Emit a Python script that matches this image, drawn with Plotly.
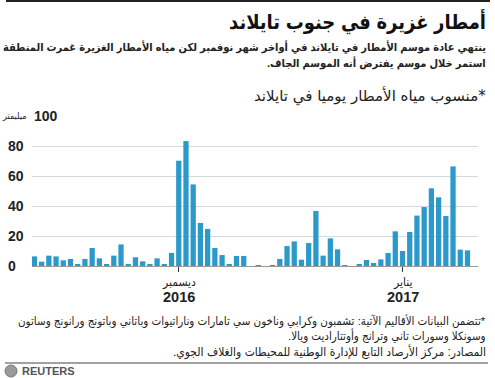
import plotly.graph_objects as go
import pandas as pd

# Daily rainfall (mm), 11 Nov 2016 - 10 Jan 2017
start_date = "2016-11-11"
rain_mm = [
    6.4, 2.9, 6.9, 6.4, 3.8, 4.7, 0.7, 4.7, 12.0, 5.1,
    1.3, 6.9, 14.4, 1.3, 5.8, 3.1, 0.7, 5.1, 1.3, 8.7,
    70.2, 83.3, 54.4, 28.7, 24.7, 12.0, 7.3, 0.7, 6.7, 6.7,
    0.0, 0.5, 0.0, 0.5, 4.7, 13.3, 16.4, 4.2, 15.3, 36.7,
    6.9, 18.4, 11.1, 0.4, 0.0, 1.1, 4.0, 2.0, 4.4, 8.7,
    23.1, 10.0, 22.7, 33.6, 39.3, 51.8, 45.8, 33.3, 66.4, 10.9,
    10.4,
]
dates = pd.date_range(start_date, periods=len(rain_mm), freq="D")

y_ticks = [0, 20, 40, 60, 80, 100]
x_tick_dates = ["2016-12-01", "2017-01-01"]
x_tick_months = ["ديسمبر", "يناير"]
x_tick_years = ["2016", "2017"]

title = "أمطار غزيرة في جنوب تايلاند"
subtitle1 = "ينتهي عادة موسم الأمطار في تايلاند في أواخر شهر نوفمبر لكن مياه الأمطار الغزيرة غمرت المنطقة"
subtitle2 = "استمر خلال موسم يفترض أنه الموسم الجاف."
series_label = "*منسوب مياه الأمطار يوميا في تايلاند"
unit_label = "ميليمتر"
foot1 = "*تتضمن البيانات الأقاليم الآتية: تشمبون وكرابي وناخون سي تامارات وناراتيوات وباتاني وباتونج ورانونج وساتون"
foot2 = "وسونكلا وسورات تاني وترانج وأوتتاراديت ويالا."
source = "المصادر: مركز الأرصاد التابع للإدارة الوطنية للمحيطات والغلاف الجوي."

FONT = "Arial, 'Liberation Sans', 'DejaVu Sans Condensed', 'DejaVu Sans', sans-serif"
FONT_AR = "'DejaVu Sans', sans-serif"
BAR = "#2b9acb"
RLM = "\u200f"

W, H = 495, 378
L, R, T, B = 32, 17, 116, 112
PW, PH = W - L - R, H - T - B


def px(xp):
    return (xp - L) / PW


def py(yp):
    return (H - B - yp) / PH


fig = go.Figure()
fig.add_trace(go.Bar(x=dates, y=rain_mm, marker_color=BAR, marker_line_width=0))

fig.update_layout(
    width=W, height=H,
    margin=dict(l=L, r=R, t=T, b=B),
    paper_bgcolor="white", plot_bgcolor="white",
    bargap=0.27, showlegend=False,
    font=dict(family=FONT, color="#222"),
    xaxis=dict(
        type="date",
        range=["2016-11-10 16:00", "2017-01-11 11:00"],
        tickvals=x_tick_dates, ticktext=["", ""],
        ticks="outside", ticklen=5, tickwidth=1, tickcolor="#333",
        showgrid=False, showline=True, linecolor="#999", linewidth=1,
        showticklabels=False, fixedrange=True,
    ),
    yaxis=dict(
        range=[0, 100], tickvals=y_ticks, showticklabels=False,
        showgrid=True, gridcolor="#d3dbe0", gridwidth=1,
        zeroline=False, showline=False, fixedrange=True,
    ),
)

ann = []
for v in y_ticks[:-1]:
    ann.append(dict(x=px(6), y=v, xref="paper", yref="y", text=f"<b>{v}</b>",
                    showarrow=False, xanchor="left", yanchor="middle",
                    font=dict(size=14, color="#222", family=FONT)))
ann.append(dict(x=px(32), y=y_ticks[-1], xref="paper", yref="y", text=f"<b>{y_ticks[-1]}</b>",
                showarrow=False, xanchor="left", yanchor="middle", bgcolor="white",
                borderpad=1, font=dict(size=14, color="#222", family=FONT)))
ann.append(dict(x=px(0), y=y_ticks[-1], xref="paper", yref="y", text=unit_label,
                showarrow=False, xanchor="left", yanchor="middle",
                font=dict(size=9, color="#222", family=FONT)))
for d, m, yr in zip(x_tick_dates, x_tick_months, x_tick_years):
    ann.append(dict(x=d, y=py(282), xref="x", yref="paper", text=m, showarrow=False,
                    xanchor="center", yanchor="middle", font=dict(size=12, color="#222", family=FONT)))
    ann.append(dict(x=d, y=py(297), xref="x", yref="paper", text=f"<b>{yr}</b>", showarrow=False,
                    xanchor="center", yanchor="middle", font=dict(size=14.5, color="#222", family=FONT)))


def rtext(txt, ycen, size, bold=False, color="#222", family=FONT):
    t = RLM + txt + RLM
    t = f"<b>{t}</b>" if bold else t
    return dict(x=px(488), y=py(ycen), xref="paper", yref="paper", text=t, showarrow=False,
                xanchor="right", yanchor="middle", font=dict(size=size, color=color, family=family))


ann += [
    rtext(title, 21, 20, bold=True, color="#111"),
    rtext(subtitle1, 47, 11, bold=True),
    rtext(subtitle2, 63, 11, bold=True),
    rtext(series_label, 96, 15, family=FONT_AR),
    rtext(foot1, 321, 11.5),
    rtext(foot2, 336, 11.5),
    rtext(source, 352, 12),
]
ann.append(dict(x=px(20), y=py(371), xref="paper", yref="paper", text="<b>REUTERS</b>",
                showarrow=False, xanchor="left", yanchor="middle",
                font=dict(size=11, color="#555", family=FONT)))
fig.update_layout(annotations=ann)

shapes = [
    dict(type="line", xref="paper", yref="paper", x0=px(6), x1=px(490), y0=py(1), y1=py(1),
         line=dict(color="#222", width=2)),
    dict(type="line", xref="paper", yref="paper", x0=px(5), x1=px(488), y0=py(363), y1=py(363),
         line=dict(color="#444", width=1)),
    dict(type="circle", xref="paper", yref="paper", x0=px(5), x1=px(17), y0=py(377), y1=py(365),
         fillcolor="#9a9a9a", line=dict(color="#777", width=1)),
]
fig.update_layout(shapes=shapes)

fig.write_html("out.html", config={"displayModeBar": False},
               post_script="document.body.style.margin='0';")
